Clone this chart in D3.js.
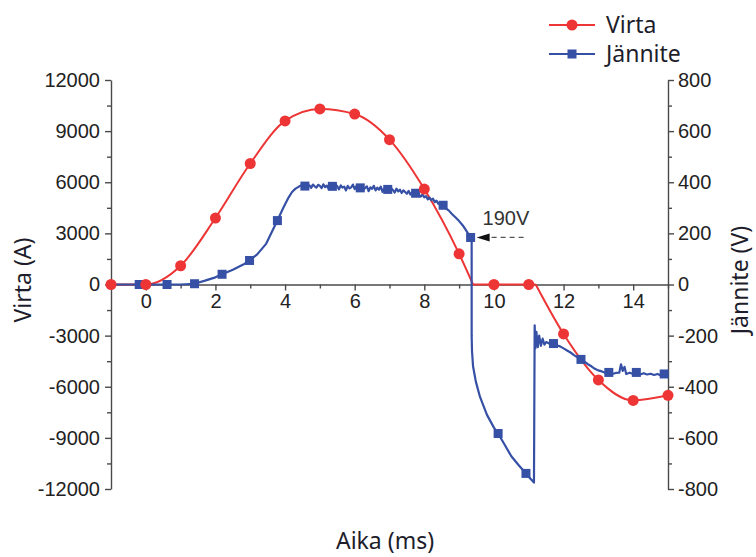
<!DOCTYPE html>
<html>
<head>
<meta charset="utf-8">
<script src="https://cdn.jsdelivr.net/npm/d3@7"></script>
<style>
  body { margin: 0; background: #fff; }
  svg { display: block; }
  .tick text { font-family: "Liberation Sans", Arial, sans-serif; font-size: 20px; fill: #222; }
  .title { font-family: "Noto Sans", "Open Sans", sans-serif; font-size: 23px; fill: #1d1d2b; }
</style>
</head>
<body>
<svg id="chart" width="756" height="557"></svg>
<script>
// Virta (A), red curve; markers at whole milliseconds
const currentT = [-1, 0, 1, 2, 3, 4, 5, 6, 7, 8, 9, 9.4, 10, 11, 11.2, 12, 13, 14, 15];
const currentA = [0, 0, 1100, 3900, 7100, 9600, 10300, 10000, 8500, 5600, 1800, 0, 0, 0, 0, -2900, -5600, -6800, -6500];
const currentBreaks = [9.4, 11.2]; // sharp corners in the curve
const currentMarkT = [-1, 0, 1, 2, 3, 4, 5, 6, 7, 8, 9, 10, 11, 12, 13, 14, 15];
const currentMarkA = [0, 0, 1100, 3900, 7100, 9600, 10300, 10000, 8500, 5600, 1800, 0, 0, -2900, -5600, -6800, -6500];

// Jännite (V), blue measured trace
const voltT = [-1, -0.19, 0.61, 1.0, 1.4, 1.7, 2.0, 2.19, 2.5, 2.8, 2.98, 3.2, 3.46, 3.64, 3.78, 3.95, 4.1, 4.2, 4.3, 4.4,
  4.5, 4.55, 4.6, 4.65, 4.7, 4.75, 4.8, 4.85, 4.9, 4.95, 5.0, 5.05, 5.1, 5.15, 5.2, 5.25, 5.3, 5.35, 5.4, 5.45, 5.5, 5.55,
  5.6, 5.65, 5.7, 5.75, 5.8, 5.85, 5.9, 5.95, 6.0, 6.05, 6.1, 6.15, 6.2, 6.25, 6.3, 6.35, 6.4, 6.45, 6.5, 6.55, 6.6, 6.65,
  6.7, 6.75, 6.8, 6.85, 6.9, 6.95, 7.0, 7.05, 7.1, 7.15, 7.2, 7.25, 7.3, 7.35, 7.4, 7.45, 7.5, 7.55, 7.6, 7.65, 7.7, 7.75,
  7.8, 7.85, 7.9, 7.95, 8.0, 8.05, 8.1, 8.15, 8.2, 8.25, 8.3, 8.35, 8.4, 8.45, 8.5, 8.6, 8.7, 8.8, 8.9, 9.0, 9.1, 9.2, 9.33, 9.36,
  9.36, 9.37, 9.4, 9.48, 9.6, 9.8, 10.0, 10.12, 10.3, 10.5, 10.7, 10.92, 11.05, 11.15,
  11.17, 11.19, 11.22, 11.26, 11.3, 11.35, 11.4, 11.45, 11.5, 11.6, 11.71, 11.8, 11.9, 12.0, 12.1, 12.2, 12.3, 12.4, 12.5,
  12.6, 12.7, 12.8, 12.9, 13.0, 13.1, 13.2, 13.3, 13.4, 13.5, 13.6, 13.65, 13.7, 13.75, 13.8, 13.9, 14.0, 14.09, 14.2, 14.3,
  14.4, 14.5, 14.6, 14.7, 14.8, 14.89, 15.0];
const voltV = [0, 0, 0, 0, 3, 15, 28, 40, 58, 78, 94, 118, 160, 211, 250, 300, 340, 362, 375, 383,
  390, 380, 392, 383, 388, 378, 391, 384, 379, 390, 386, 377, 392, 381, 387, 374, 389, 382, 378, 391, 384, 372,
  388, 379, 383, 368, 386, 376, 380, 391, 373, 385, 366, 381, 387, 370, 378, 384, 365, 380, 374, 386, 368, 379,
  371, 383, 362, 376, 372, 380, 366, 377, 369, 360, 375, 364, 371, 358, 368, 362, 355, 366, 352, 360, 357, 348,
  358, 350, 344, 352, 341, 346, 333, 340, 330, 336, 322, 328, 316, 320, 310, 300, 290, 275, 262, 248, 232, 212, 184, 184,
  -200, -260, -320, -380, -440, -510, -560, -583, -625, -672, -705, -739, -760, -775,
  -160, -250, -185, -245, -200, -240, -212, -235, -225, -232, -231, -238, -242, -250, -258, -266, -276, -285, -293,
  -302, -312, -320, -330, -336, -340, -345, -344, -350, -346, -345, -312, -338, -322, -350, -345, -350, -344, -352, -347,
  -352, -349, -354, -350, -356, -350, -356];
const voltMarkT = [-0.19, 0.61, 1.4, 2.19, 2.98, 3.78, 4.57, 5.36, 6.16, 6.95, 7.75, 8.54, 9.33, 10.12, 10.92, 11.71, 12.5, 13.3, 14.09, 14.89];
const voltMarkV = [0, 0, 3, 40, 94, 250, 385, 384, 378, 372, 357, 310, 184, -583, -739, -231, -293, -344, -344, -350];

const xTicks = [0, 2, 4, 6, 8, 10, 12, 14];
const xMinor = [-1, 1, 3, 5, 7, 9, 11, 13, 15];
const ampTicks = [-12000, -9000, -6000, -3000, 0, 3000, 6000, 9000, 12000];
const ampMinor = [-10500, -7500, -4500, -1500, 1500, 4500, 7500, 10500];
const voltTicks = [-800, -600, -400, -200, 0, 200, 400, 600, 800];
const voltMinor = [-700, -500, -300, -100, 100, 300, 500, 700];

const red = "#ee3535", blue = "#3650a6", axisColor = "#4a4a4a";
const plain = d => String(d); // hyphen minus, no thousands separator

const svg = d3.select("#chart");

const x = d3.scaleLinear().domain([-1, 15]).range([111, 668]);
const yA = d3.scaleLinear().domain([-12000, 12000]).range([489, 80]);
const yV = d3.scaleLinear().domain([-800, 800]).range([489, 80]);

function styleAxis(g) {
    g.selectAll("path, line").attr("stroke", axisColor).attr("stroke-width", 1.4);
}

// Axes
svg.append("g").attr("transform", `translate(${x.range()[0]},0)`)
    .call(d3.axisLeft(yA).tickValues(ampTicks).tickFormat(plain).tickSize(6).tickSizeOuter(0).tickPadding(5))
    .call(styleAxis);
svg.append("g").attr("transform", `translate(${x.range()[0]},0)`)
    .call(d3.axisLeft(yA).tickValues(ampMinor).tickSize(4).tickFormat(""))
    .call(g => g.select(".domain").remove())
    .call(styleAxis);

svg.append("g").attr("transform", `translate(${x.range()[1]},0)`)
    .call(d3.axisRight(yV).tickValues(voltTicks).tickFormat(plain).tickSize(6).tickSizeOuter(0).tickPadding(4))
    .call(styleAxis);
svg.append("g").attr("transform", `translate(${x.range()[1]},0)`)
    .call(d3.axisRight(yV).tickValues(voltMinor).tickSize(4).tickFormat(""))
    .call(g => g.select(".domain").remove())
    .call(styleAxis);

svg.append("g").attr("transform", `translate(0,${yA(0)})`)
    .call(d3.axisBottom(x).tickValues(xTicks).tickFormat(plain).tickSize(6).tickSizeOuter(0).tickPadding(3))
    .call(styleAxis);
svg.append("g").attr("transform", `translate(0,${yA(0)})`)
    .call(d3.axisBottom(x).tickValues(xMinor).tickSize(4).tickFormat(""))
    .call(g => g.select(".domain").remove())
    .call(styleAxis);

// Current curve, split at the sharp corners
const pieces = [];
let cur = [];
currentT.forEach((t, i) => {
    cur.push([t, currentA[i]]);
    if (currentBreaks.includes(t)) { pieces.push(cur); cur = [[t, currentA[i]]]; }
});
pieces.push(cur);

const currentLine = d3.line()
    .x(d => x(d[0]))
    .y(d => yA(d[1]))
    .curve(d3.curveMonotoneX);

svg.append("g").selectAll("path")
    .data(pieces)
    .join("path")
    .attr("d", currentLine)
    .attr("fill", "none")
    .attr("stroke", red)
    .attr("stroke-width", 2);

// Voltage trace
const voltLine = d3.line()
    .x((d, i) => x(voltT[i]))
    .y(d => yV(d));

svg.append("path")
    .datum(voltV)
    .attr("d", voltLine)
    .attr("fill", "none")
    .attr("stroke", blue)
    .attr("stroke-width", 2.2)
    .attr("stroke-linejoin", "round");

svg.append("g").selectAll("rect")
    .data(voltMarkT)
    .join("rect")
    .attr("x", d => x(d) - 4.5)
    .attr("y", (d, i) => yV(voltMarkV[i]) - 4.5)
    .attr("width", 9)
    .attr("height", 9)
    .attr("fill", blue);

svg.append("g").selectAll("circle")
    .data(currentMarkT)
    .join("circle")
    .attr("cx", d => x(d))
    .attr("cy", (d, i) => yA(currentMarkA[i]))
    .attr("r", 5.5)
    .attr("fill", red);

// 190V annotation
const ax = x(9.33), ay = yV(184);
svg.append("path")
    .attr("d", `M${ax + 6},${ay} L${ax + 19},${ay - 4} L${ax + 19},${ay + 4} Z`)
    .attr("fill", "#111");
svg.append("line")
    .attr("x1", ax + 21).attr("x2", ax + 55)
    .attr("y1", ay).attr("y2", ay)
    .attr("stroke", "#555")
    .attr("stroke-width", 1.2)
    .attr("stroke-dasharray", "5,4");
svg.append("text")
    .attr("x", ax + 12)
    .attr("y", ay - 12)
    .style("font-family", "Liberation Sans, Arial, sans-serif")
    .style("font-size", "20px")
    .attr("fill", "#333")
    .text("190V");

// Axis titles
svg.append("text").attr("class", "title")
    .attr("x", 385).attr("y", 549)
    .attr("text-anchor", "middle")
    .text("Aika (ms)");
svg.append("text").attr("class", "title")
    .attr("transform", "translate(31,280) rotate(-90)")
    .attr("text-anchor", "middle")
    .text("Virta (A)");
svg.append("text").attr("class", "title")
    .attr("transform", "translate(748,280) rotate(-90)")
    .attr("text-anchor", "middle")
    .text("Jännite (V)");

// Legend
const legend = [
    { name: "Virta", color: red, shape: "circle", y: 25 },
    { name: "Jännite", color: blue, shape: "square", y: 54 }
];
const lg = svg.append("g").selectAll("g").data(legend).join("g")
    .attr("transform", d => `translate(0,${d.y})`);
lg.append("line")
    .attr("x1", 549).attr("x2", 595)
    .attr("stroke", d => d.color).attr("stroke-width", 2);
lg.filter(d => d.shape === "circle").append("circle")
    .attr("cx", 572).attr("r", 5.5).attr("fill", d => d.color);
lg.filter(d => d.shape === "square").append("rect")
    .attr("x", 567.5).attr("y", -4.5).attr("width", 9).attr("height", 9).attr("fill", d => d.color);
lg.append("text").attr("class", "title")
    .attr("x", 606).attr("dy", "0.35em")
    .text(d => d.name);
</script>
</body>
</html>
